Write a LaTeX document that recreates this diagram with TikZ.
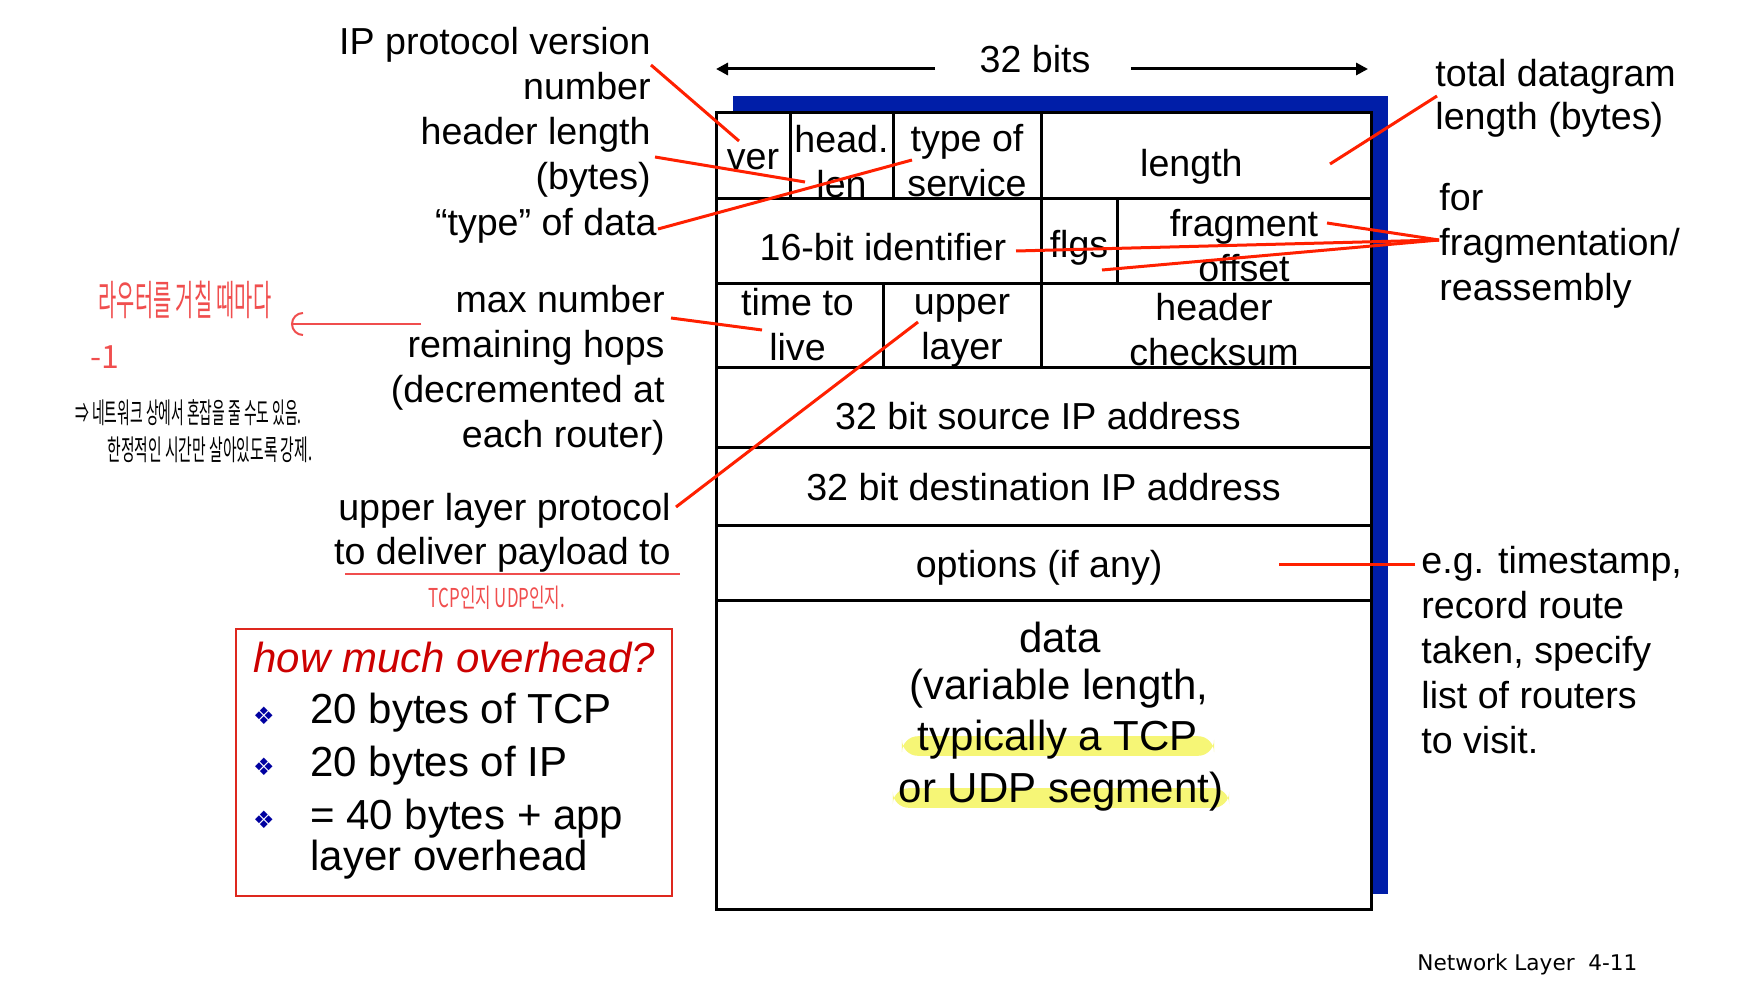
\documentclass[tikz,border=0pt]{standalone}
\usepackage{fontspec}
\usepackage{graphicx}
\setmainfont{Liberation Sans}
\setsansfont{Liberation Sans}
\newfontfamily\penfont{Noto Sans CJK KR}
\newfontfamily\symfont{DejaVu Sans}
\usetikzlibrary{arrows.meta,positioning}

\definecolor{slideblue}{RGB}{0,30,168}
\definecolor{leadred}{RGB}{255,32,0}
\definecolor{penred}{RGB}{240,78,78}
\definecolor{boxred}{RGB}{222,40,30}
\definecolor{titlered}{RGB}{204,0,0}
\definecolor{bulletblue}{RGB}{0,0,160}
\definecolor{marker}{RGB}{246,246,118}

\begin{document}
\begin{tikzpicture}[
  x=0.5pt, y=-0.5pt,
  font=\fontsize{18.8}{22.5}\selectfont,
  cell/.style={draw, fill=white, line width=1.5pt, inner sep=0pt},
  celltext/.style={inner sep=0pt, align=center},
  lnote/.style={inner sep=0pt, align=right, anchor=base east},
  rnote/.style={inner sep=0pt, align=left, anchor=base west},
  lead/.style={draw=leadred, line width=1.5pt},
  arrow/.style={-{Triangle[length=6pt, width=6pt]}, line width=1.5pt},
  big/.style={inner sep=0pt, font=\fontsize{21}{25}\selectfont},
  marked/.style={big, fill=marker, rounded corners=8pt, inner xsep=3pt,
    inner ysep=1pt, text height=0.62em, text depth=0.16em},
  item/.style={inner sep=0pt, anchor=base west, align=left, font=\fontsize{21}{20.5}\selectfont},
  bullet/.style={inner sep=0pt, text=bulletblue, font=\symfont\fontsize{12}{12}\selectfont},
  pen/.style={inner sep=0pt, text=penred},
  ink/.style={inner sep=0pt, text=black}
]
  \useasboundingbox (0,0) rectangle (1759,1000);

  % header grid
  \fill[slideblue] (733,96) rectangle (1388,894);
  \node[cell, minimum width=37pt, minimum height=43pt] (ver) at (753,156) {};
  \node[cell, minimum width=51.5pt, minimum height=43pt] (hlen) at (841.5,156) {};
  \node[cell, minimum width=74pt, minimum height=43pt] (tos) at (967,156) {};
  \node[cell, minimum width=165pt, minimum height=43pt] (len) at (1206,156) {};
  \node[cell, minimum width=162.5pt, minimum height=42pt] (ident) at (878.5,241) {};
  \node[cell, minimum width=38pt, minimum height=42pt] (flgs) at (1079,241) {};
  \node[cell, minimum width=127pt, minimum height=42pt] (frag) at (1244,241) {};
  \node[cell, minimum width=83.5pt, minimum height=42pt] (ttl) at (799.5,325) {};
  \node[cell, minimum width=79pt, minimum height=42pt] (proto) at (962,325) {};
  \node[cell, minimum width=165pt, minimum height=42pt] (cksum) at (1206,325) {};
  \node[cell, minimum width=327.5pt, minimum height=40pt] (src) at (1043.5,407) {};
  \node[cell, minimum width=327.5pt, minimum height=39pt] (dst) at (1043.5,486) {};
  \node[cell, minimum width=327.5pt, minimum height=37.5pt] (opts) at (1043.5,562.5) {};
  \node[cell, minimum width=327.5pt, minimum height=154.5pt] (data) at (1043.5,754.5) {};

  \node[celltext] (vertxt) at ([yshift=-1.7pt]ver.center) {ver};
  \node[celltext] (hlentxt) at ([yshift=-2.8pt]hlen.center) {head.\\len};
  \node[celltext] (tostxt) at ([yshift=-2.2pt]tos.center) {type of\\service};
  \node[celltext] (lentxt) at ([xshift=-7.3pt, yshift=-5.5pt]len.center) {length};
  \node[celltext] (identtxt) at ([xshift=2.2pt, yshift=-2.8pt]ident.center) {16-bit identifier};
  \node[celltext] (flgstxt) at ([yshift=-3.3pt]flgs.center) {flgs};
  \node[celltext] (fragtxt) at ([yshift=-2.2pt]frag.center) {fragment\\offset};
  \node[celltext] (ttltxt) at ([xshift=-1pt]ttl.center) {time to\\live};
  \node[celltext] (prototxt) at ([yshift=-2.8pt]proto.center) {upper\\layer};
  \node[celltext] (cksumtxt) at ([xshift=4pt, yshift=-2.2pt]cksum.center) {header\\checksum};
  \node[celltext] (srctxt) at ([xshift=-2.8pt, yshift=-4.5pt]src.center) {32 bit source IP address};
  \node[celltext] (dsttxt) at ([yshift=-0.5pt]dst.center) {32 bit destination IP address};
  \node[celltext] (optstxt) at ([xshift=-2.2pt, yshift=-2.7pt]opts.center) {options (if any)};

  \node[big] (dtitle) at (1060,637) {data};
  \node[big] (dvar) at (1059,689) {(variable length,};
  \node[marked, inner xsep=8pt] (dtcp) at (1058,746) {typically a TCP};
  \node[marked] (dudp) at (1061,798) {or UDP segment)};

  % 32 bits
  \node[inner sep=0pt, anchor=base] (bits) at (1035,73) {32 bits};
  \coordinate (bitsL) at (716,69);
  \coordinate (bitsR) at (1368,69);
  \draw[arrow] ([xshift=-22pt]bits.west |- bitsL) -- (bitsL);
  \draw[arrow] ([xshift=20pt]bits.east |- bitsR) -- (bitsR);

  % labels left (base = last line)
  \node[lnote] (verlab) at (651,100) {IP protocol version\\number};
  \node[lnote] (hlenlab) at (651,190) {header length\\(bytes)};
  \node[lnote] (toslab) at (657,235) {“type” of data};
  \node[lnote] (ttllab) at (665,447) {max number\\remaining hops\\(decremented at\\each router)};
  \node[lnote, font=\fontsize{18.8}{22}\selectfont] (protolab) at (671,564) {upper layer protocol\\to deliver payload to};

  % labels right
  \node[rnote, font=\fontsize{18.8}{21.5}\selectfont] (lenlab) at (1435,130) {total datagram\\length (bytes)};
  \node[rnote] (fraglab) at (1439,300) {for\\fragmentation/\\reassembly};
  \node[rnote] (optlab) at (1421,753) {e.g. timestamp,\\record route\\taken, specify\\list of routers\\to visit.};

  % leaders
  \coordinate (verL) at (651,65);   \coordinate (verP) at (739,141);
  \coordinate (hlenL) at (655,157); \coordinate (hlenP) at (805,182);
  \coordinate (tosL) at (658,229);  \coordinate (tosP) at (912,160);
  \coordinate (ttlL) at (671,318);  \coordinate (ttlP) at (762,330);
  \coordinate (protoL) at (676,507); \coordinate (protoP) at (918,322);
  \coordinate (lenL) at (1437,96);  \coordinate (lenP) at (1330,164);
  \coordinate (fragL) at (1439,240);
  \coordinate (fragP) at (1327,223); \coordinate (identP) at (1016,251); \coordinate (offP) at (1102,270);
  \coordinate (optL) at (1415,564); \coordinate (optP) at (1279,564);
  \draw[lead] (verL) -- (verP);
  \draw[lead] (hlenL) -- (hlenP);
  \draw[lead] (tosL) -- (tosP);
  \draw[lead] (ttlL) -- (ttlP);
  \draw[lead] (protoL) -- (protoP);
  \draw[lead] (lenL) -- (lenP);
  \draw[lead] (fragL) -- (fragP);
  \draw[lead] (fragL) -- (identP);
  \draw[lead] (fragL) -- (offP);
  \draw[lead] (optL) -- (optP);

  % overhead box
  \node[draw=boxred, line width=1pt, minimum width=218pt, minimum height=133.5pt, inner sep=0pt] (ovh) at (454,762.5) {};
  \node[inner sep=0pt, anchor=base west, text=titlered, font=\itshape\fontsize{21}{25}\selectfont] (ovhtitle) at (253,672) {how much overhead?};
  \node[bullet] (b1) at (264,716) {❖};
  \node[item] (tcp) at (310,723) {20 bytes of TCP};
  \node[bullet] (b2) at (264,767) {❖};
  \node[item] (ip) at (310,776) {20 bytes of IP};
  \node[bullet] (b3) at (264,820) {❖};
  \node[item] (sum) at (310,870) {= 40 bytes + app\\layer overhead};

  % handwritten notes
  \node[pen] (hops) at (185,300) {\scalebox{0.55}[1.15]{\penfont\fontsize{18}{18}\selectfont 라우터를 거칠 때마다}};
  \node[pen] (minus) at (105,357) {\penfont\fontsize{16}{16}\selectfont -1};
  \node[ink, anchor=west] (why1) at (75,413) {\scalebox{0.53}[1.1]{\penfont\fontsize{13}{13}\selectfont ⇒ 네트워크 상에서 혼잡을 줄 수도 있음.}};
  \node[ink, anchor=west] (why2) at (107,450) {\scalebox{0.57}[1.1]{\penfont\fontsize{13}{13}\selectfont 한정적인 시간만 살아있도록 강제.}};
  \node[pen] (which) at (497,598) {\scalebox{0.65}[1]{\penfont\fontsize{13}{13}\selectfont TCP인지 UDP인지.}};
  \coordinate (penL) at (291,324);
  \coordinate (penR) at (421,324);
  \draw[penred, line width=1pt, -{Arc Barb[length=6pt, width=12pt]}] (penR) -- (penL);
  \draw[penred, line width=1pt] (345,574) -- (680,574);

  \node[inner sep=0pt, anchor=base west, font=\symfont\fontsize{10.8}{12}\selectfont] (pagenum) at (1417,970) {Network Layer\ \ 4-11};
\end{tikzpicture}
\end{document}
